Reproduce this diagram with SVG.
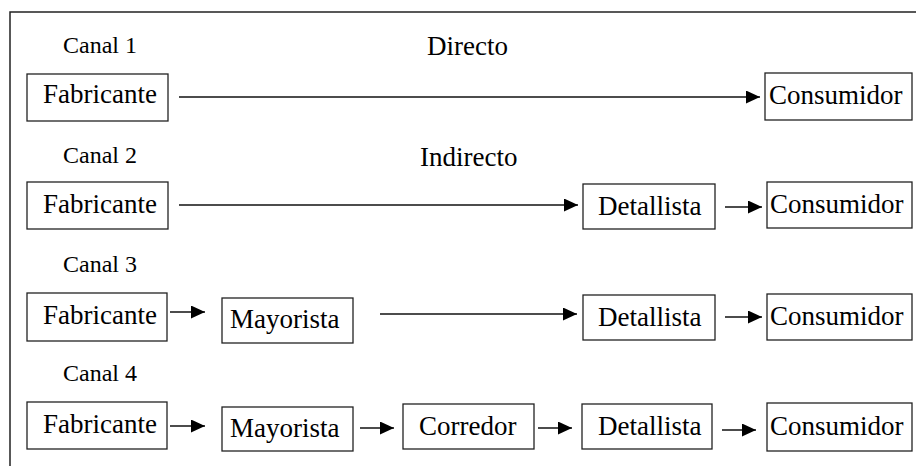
<svg xmlns="http://www.w3.org/2000/svg" width="916" height="466" viewBox="0 0 916 466">
<style>
  .box { fill: #fff; stroke: #222; stroke-width: 1.3; }
  .t { font-family: "Liberation Serif", "Times New Roman", serif; font-size: 27px; fill: #000; }
  .lbl { font-family: "Liberation Serif", "Times New Roman", serif; font-size: 24px; fill: #000; }
  .c { stroke: #111; stroke-width: 1.3; fill: none; marker-end: url(#ah); }
  .frame { stroke: #222; stroke-width: 1.5; fill: none; }
</style>
<defs>
  <marker id="ah" markerUnits="userSpaceOnUse" markerWidth="15" markerHeight="14" refX="14" refY="6.5" orient="auto">
    <path d="M0,0 L14,6.5 L0,13 z" fill="#000"/>
  </marker>
</defs>
<rect width="916" height="466" fill="#fff"/>
<path class="frame" d="M10,466 V12 H916"/>

<g id="labels">
  <text class="lbl" x="63" y="53">Canal 1</text>
  <text class="t" x="427" y="55">Directo</text>
  <text class="lbl" x="63" y="163">Canal 2</text>
  <text class="t" x="420" y="166">Indirecto</text>
  <text class="lbl" x="63" y="272">Canal 3</text>
  <text class="lbl" x="63" y="381">Canal 4</text>
</g>

<g id="connectors">
  <line class="c" x1="179" y1="97" x2="760" y2="97"/>
  <line class="c" x1="179" y1="205" x2="578" y2="205"/>
  <line class="c" x1="725" y1="207" x2="762" y2="207"/>
  <line class="c" x1="170" y1="312" x2="205" y2="312"/>
  <line class="c" x1="380" y1="314" x2="577" y2="314"/>
  <line class="c" x1="725" y1="317" x2="762" y2="317"/>
  <line class="c" x1="170" y1="426" x2="205" y2="426"/>
  <line class="c" x1="360" y1="428" x2="394" y2="428"/>
  <line class="c" x1="538" y1="428" x2="572" y2="428"/>
  <line class="c" x1="722" y1="430" x2="756" y2="430"/>
</g>

<g id="r1-fabricante"><rect class="box" x="27" y="74" width="141" height="47"/><text class="t" x="43" y="103">Fabricante</text></g>
<g id="r1-consumidor"><rect class="box" x="765" y="73" width="147" height="47"/><text class="t" x="769" y="104">Consumidor</text></g>

<g id="r2-fabricante"><rect class="box" x="27" y="182" width="141" height="47"/><text class="t" x="43" y="213">Fabricante</text></g>
<g id="r2-detallista"><rect class="box" x="583" y="184" width="132" height="45"/><text class="t" x="598" y="215">Detallista</text></g>
<g id="r2-consumidor"><rect class="box" x="767" y="182" width="145" height="46"/><text class="t" x="770" y="213">Consumidor</text></g>

<g id="r3-fabricante"><rect class="box" x="27" y="293" width="140" height="48"/><text class="t" x="43" y="324">Fabricante</text></g>
<g id="r3-mayorista"><rect class="box" x="222" y="298" width="131" height="45"/><text class="t" x="230" y="328">Mayorista</text></g>
<g id="r3-detallista"><rect class="box" x="583" y="295" width="132" height="45"/><text class="t" x="598" y="326">Detallista</text></g>
<g id="r3-consumidor"><rect class="box" x="767" y="294" width="145" height="46"/><text class="t" x="770" y="325">Consumidor</text></g>

<g id="r4-fabricante"><rect class="box" x="27" y="402" width="140" height="47"/><text class="t" x="43" y="433">Fabricante</text></g>
<g id="r4-mayorista"><rect class="box" x="222" y="407" width="131" height="44"/><text class="t" x="230" y="437">Mayorista</text></g>
<g id="r4-corredor"><rect class="box" x="403" y="404" width="131" height="45"/><text class="t" x="419" y="435">Corredor</text></g>
<g id="r4-detallista"><rect class="box" x="582" y="404" width="130" height="45"/><text class="t" x="598" y="435">Detallista</text></g>
<g id="r4-consumidor"><rect class="box" x="767" y="403" width="145" height="48"/><text class="t" x="770" y="435">Consumidor</text></g>
</svg>
